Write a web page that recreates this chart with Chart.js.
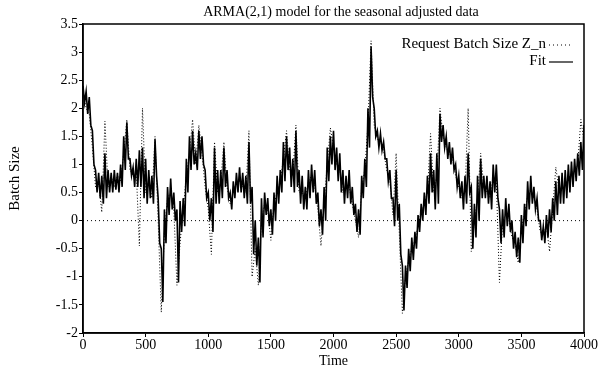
<!DOCTYPE html>
<html>
<head>
<meta charset="utf-8">
<script src="https://cdn.jsdelivr.net/npm/chart.js@4"></script>
<style>
  html, body { margin: 0; padding: 0; background: #fff; }
  #wrap { width: 599px; height: 373px; }
</style>
</head>
<body>
<div id="wrap"><canvas id="armaChart" width="599" height="373"></canvas></div>
<script>
// sampling grid (time), one reading every 25 steps
const timeStep = 25;
const timeMax = 4000;

// upper edge of the dense "Fit" band
const fitHigh = [
  2.4, 2.3, 2.2, 1.6, 0.9, 0.85, 0.8, 1.2, 0.9, 0.85, 0.9, 0.85, 1.0, 1.5, 1.75, 1.1, 0.95, 1.1, 1.25, 1.3,
  1.1, 0.9, 0.8, 1.45, 0.4, -0.5, 0.2, 0.6, 0.75, 0.5, 0.2, 0.35, 0.4, 1.1, 1.5, 1.6, 1.2, 1.6, 1.5, 0.9,
  0.5, 0.4, 1.3, 0.9, 0.9, 1.3, 0.9, 0.5, 0.7, 0.85, 0.95, 0.85, 0.8, 1.4, 0.6, 0.0, -0.3, 0.4, 0.5, 0.4,
  0.2, 0.5, 0.8, 0.9, 1.4, 1.5, 1.3, 1.1, 1.6, 0.9, 0.8, 0.6, 0.9, 1.0, 0.9, 0.5, 0.2, 0.6, 1.3, 1.5,
  1.6, 1.3, 1.2, 0.9, 0.8, 0.9, 0.6, 0.3, 0.2, 0.8, 1.1, 2.0, 3.1, 2.0, 1.6, 1.55, 1.4, 1.1, 0.9, 0.4,
  0.9, 0.3, -0.8, -0.8, -0.5, -0.3, -0.2, 0.1, 0.3, 0.5, 0.8, 1.2, 0.9, 1.2, 1.9, 1.7, 1.5, 1.4, 1.3, 1.0,
  0.8, 0.7, 0.8, 1.2, 0.6, 0.3, 0.8, 1.1, 0.8, 0.8, 0.7, 1.0, 1.0, 0.2, 0.2, 0.4, 0.3, 0.0, -0.2, -0.3,
  0.1, 0.3, 0.7, 0.8, 0.6, 0.4, 0.0, -0.1, 0.1, 0.2, 0.4, 0.7, 0.8, 0.85, 0.9, 1.0, 1.05, 1.1, 1.2, 1.4,
  1.7
];

// lower edge of the "Fit" band
const fitLow = [
  2.1, 1.9, 1.7, 1.0, 0.5, 0.4, 0.3, 0.4, 0.5, 0.5, 0.55, 0.5, 0.6, 0.9, 1.1, 0.8, 0.6, 0.6, 0.6, 0.4,
  0.3, 0.4, 0.3, 0.8, -0.4, -1.45, -0.4, 0.1, 0.2, 0.0, -1.1, -0.2, -0.1, 0.5, 0.9, 1.0, 0.9, 1.1, 1.0, 0.4,
  0.0, -0.2, 0.3, 0.3, 0.4, 0.6, 0.4, 0.2, 0.4, 0.5, 0.5, 0.4, 0.3, 0.3, -0.6, -0.8, -1.1, -0.3, 0.1, -0.1,
  -0.25, 0.0, 0.3, 0.5, 0.7, 0.9, 0.6, 0.5, 0.6, 0.3, 0.2, 0.2, 0.4, 0.5, 0.3, -0.1, -0.25, 0.0, 0.7, 1.0,
  0.9, 0.7, 0.5, 0.3, 0.4, 0.3, 0.1, -0.2, -0.25, 0.4, 0.6, 1.3, 2.2, 1.5, 1.3, 1.25, 1.1, 0.7, 0.4, -0.1,
  0.0, -0.6, -1.6, -1.2, -0.9, -0.7, -0.5, -0.2, 0.0, 0.1, 0.3, 0.5, 0.2, 0.3, 1.4, 1.3, 1.1, 1.0, 0.9, 0.6,
  0.4, 0.2, 0.3, 0.5, -0.5, -0.3, 0.0, 0.4, 0.4, 0.3, 0.2, 0.5, 0.4, -0.4, -0.3, -0.1, -0.2, -0.5, -0.65, -0.75,
  -0.4, -0.1, 0.2, 0.3, 0.2, 0.0, -0.35, -0.4, -0.3, -0.2, 0.0, 0.1, 0.3, 0.3, 0.4, 0.5, 0.6, 0.7, 0.8, 0.9,
  1.1
];

// Request Batch Size Z_n (dotted), incl. the spikes sticking out of the band
const batchSizeZn = [
  2.3, 2.0, 1.9, 1.3, 0.6, 0.7, 0.15, 1.77, 0.6, 0.8, 0.6, 0.8, 0.7, 1.2, 1.8, 0.9, 0.8, 0.9, -0.45, 2.0,
  0.5, 0.7, 0.4, 1.5, 0.0, -1.63, -0.2, 0.4, 0.5, 0.2, -1.15, -0.4, 0.2, 0.8, 1.2, 1.8, 1.0, 1.7, 1.2, 0.6,
  0.2, -0.6, 1.4, 0.5, 0.7, 1.4, 0.6, 0.3, 0.5, 0.7, 0.7, 0.6, 0.5, 1.6, -1.0, -0.5, -1.15, 0.0, 0.3, 0.2,
  -0.35, 0.3, 0.5, 0.7, 1.1, 1.6, 0.9, 0.8, 1.7, 0.5, 0.5, 0.4, 0.7, 0.8, 0.6, 0.2, -0.45, 0.3, 1.0, 1.65,
  1.3, 1.0, 0.9, 0.5, 0.6, 0.6, 0.3, 0.0, -0.3, 0.6, 0.9, 1.7, 3.2, 1.7, 1.45, 1.4, 1.25, 0.9, 0.7, 0.1,
  1.2, -0.2, -1.65, -1.0, -0.7, -0.5, -0.35, -0.1, 0.15, 0.3, 0.5, 1.55, 0.5, 0.8, 2.0, 1.5, 1.3, 1.2, 1.1, 0.8,
  0.6, 0.4, 0.5, 2.0, -0.55, 0.0, 0.4, 1.2, 0.6, 0.5, 0.4, 0.8, 0.7, -1.1, 0.0, 0.1, 0.0, -0.3, -0.4, -0.75,
  -0.1, 0.1, 0.45, 0.55, 0.4, 0.2, -0.2, -0.25, -0.1, -0.55, 0.2, 0.95, 0.55, 0.6, 0.65, 0.75, 0.85, 0.9, 1.0, 1.8,
  1.4
];

const titleText = 'ARMA(2,1) model for the seasonal adjusted data';
const legendLabels = ['Request Batch Size Z_n', 'Fit'];
const xTicks = [0, 500, 1000, 1500, 2000, 2500, 3000, 3500, 4000];
const yTicks = [-2, -1.5, -1, -0.5, 0, 0.5, 1, 1.5, 2, 2.5, 3, 3.5];

const serif = '"Liberation Serif", "DejaVu Serif", serif';

// build the xy points
const znPoints = batchSizeZn.map((v, i) => ({ x: i * timeStep, y: v }));
const fitPoints = [];
fitHigh.forEach((hi, i) => {
  fitPoints.push({ x: i * timeStep, y: hi });
  fitPoints.push({ x: i * timeStep + timeStep / 2, y: fitLow[i] });
});

const framePlugin = {
  id: 'frame',
  afterDraw(chart) {
    const ctx = chart.ctx;
    const a = chart.chartArea;
    ctx.save();
    ctx.strokeStyle = '#000';
    ctx.lineWidth = 1.5;
    ctx.strokeRect(a.left, a.top, a.right - a.left, a.bottom - a.top);

    // title
    ctx.fillStyle = '#000';
    ctx.font = '14px ' + serif;
    ctx.textAlign = 'center';
    ctx.textBaseline = 'middle';
    ctx.fillText(titleText, 341, 12);

    // legend, text right-aligned with the line sample after it
    ctx.font = '15px ' + serif;
    ctx.textAlign = 'right';
    const sx0 = a.right - 35, sx1 = a.right - 11;
    const rows = [a.top + 20, a.top + 37];
    ctx.fillText(legendLabels[0], sx0 - 3, rows[0]);
    ctx.fillText(legendLabels[1], sx0 - 3, rows[1]);
    ctx.lineWidth = 1;
    ctx.setLineDash([1, 3]);
    ctx.beginPath(); ctx.moveTo(sx0, rows[0] + 1); ctx.lineTo(sx1, rows[0] + 1); ctx.stroke();
    ctx.setLineDash([]);
    ctx.lineWidth = 1.2;
    ctx.beginPath(); ctx.moveTo(sx0, rows[1] + 1); ctx.lineTo(sx1, rows[1] + 1); ctx.stroke();
    ctx.restore();
  }
};

const ctx = document.getElementById('armaChart').getContext('2d');

new Chart(ctx, {
  type: 'line',
  data: {
    datasets: [
      {
        label: 'zero',
        data: [{ x: 0, y: 0 }, { x: timeMax, y: 0 }],
        borderColor: '#000',
        borderWidth: 1,
        borderDash: [1, 3],
        pointRadius: 0,
        order: 3
      },
      {
        label: legendLabels[0],
        data: znPoints,
        borderColor: '#000',
        borderWidth: 1,
        borderDash: [1, 2],
        pointRadius: 0,
        tension: 0,
        order: 2
      },
      {
        label: legendLabels[1],
        data: fitPoints,
        borderColor: '#000',
        borderWidth: 1.6,
        pointRadius: 0,
        tension: 0,
        order: 1
      }
    ]
  },
  options: {
    responsive: false,
    animation: false,
    layout: { padding: { top: 24, right: 15, left: 0, bottom: 0 } },
    plugins: {
      legend: { display: false },
      title: { display: false },
      tooltip: { enabled: false }
    },
    scales: {
      x: {
        type: 'linear',
        min: 0,
        max: timeMax,
        afterFit: (scale) => { scale.height = 40; },
        afterBuildTicks: (scale) => { scale.ticks = xTicks.map(v => ({ value: v })); },
        grid: { drawOnChartArea: false, drawTicks: true, tickLength: 4, color: '#000', tickColor: '#000' },
        border: { display: true, color: '#000', width: 1.5 },
        ticks: { color: '#000', font: { family: serif, size: 14 }, padding: 0, maxRotation: 0, callback: (v) => String(v) },
        title: { display: true, text: 'Time', color: '#000', font: { family: serif, size: 14 }, padding: { top: 0, bottom: 3 } }
      },
      y: {
        type: 'linear',
        min: -2,
        max: 3.5,
        afterFit: (scale) => { scale.width = 83; },
        afterBuildTicks: (scale) => { scale.ticks = yTicks.map(v => ({ value: v })); },
        grid: { drawOnChartArea: false, drawTicks: true, tickLength: 4, color: '#000', tickColor: '#000' },
        border: { display: true, color: '#000', width: 1.5 },
        ticks: { color: '#000', font: { family: serif, size: 14 }, padding: 1, callback: (v) => String(v) },
        title: { display: true, text: 'Batch Size', color: '#000', font: { family: serif, size: 15 }, padding: { top: 6, bottom: 0 } }
      }
    }
  },
  plugins: [framePlugin]
});
</script>
</body>
</html>
